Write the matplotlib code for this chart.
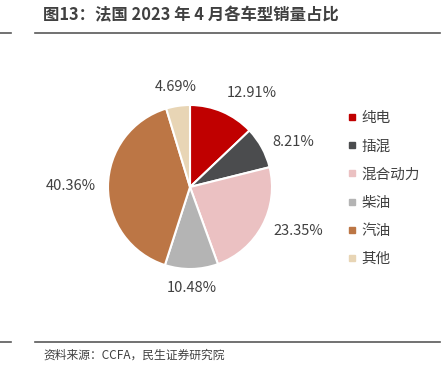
import matplotlib
matplotlib.use("Agg")
import matplotlib.pyplot as plt
from matplotlib.lines import Line2D

plt.rcParams['font.family'] = ['Noto Sans CJK SC', 'DejaVu Sans']

categories = ['纯电', '插混', '混合动力', '柴油', '汽油', '其他']
values = [12.91, 8.21, 23.35, 10.48, 40.36, 4.69]
colors = ['#C00000', '#4B4C4E', '#EBC1C2', '#B4B4B4', '#BC7645', '#E8D5B5']

W, H = 443, 372
fig = plt.figure(figsize=(W/100, H/100), dpi=100)

# pie axes: center (190,187), radius 82 px
r = 82
cx, cy = 190, 187
ax = fig.add_axes([(cx - r)/W, 1 - (cy + r)/H, 2*r/W, 2*r/H])
wedges, texts = ax.pie(values, colors=colors, startangle=90, counterclock=False,
                       labels=[f'{v:.2f}%' for v in values], labeldistance=1.15,
                       wedgeprops=dict(edgecolor='white', linewidth=1.5),
                       textprops=dict(fontsize=10.5, color='#404040'))
for t in texts:
    x, y = t.get_position()
    t.set_ha('left' if x > 0.3 else ('right' if x < -0.3 else 'center'))
    t.set_va('bottom' if y > 0.8 else ('top' if y < -0.8 else 'center'))
ax.set_xlim(-1, 1)
ax.set_ylim(-1, 1)
ax.set_aspect('equal')

# legend
handles = [Line2D([0], [0], marker='s', linestyle='none', markersize=5,
                  markerfacecolor=c, markeredgecolor=c) for c in colors]
fig.legend(handles, categories, loc='upper left', bbox_to_anchor=(340/W, 1 - 104/H),
           frameon=False, fontsize=10.5, labelcolor='#404040', handlelength=0.7,
           handletextpad=0.3, labelspacing=0.97, borderpad=0)

# title and rules
fig.text(43/W, 1 - 15/H, '图13：法国 2023 年 4 月各车型销量占比', fontsize=11.8,
         fontweight='bold', color='#404040', va='center', ha='left')
fig.add_artist(Line2D([35/W, 440/W], [1 - 33/H, 1 - 33/H], color='#595959', lw=1.2))
fig.add_artist(Line2D([0, 11/W], [1 - 33/H, 1 - 33/H], color='#595959', lw=1.2))
fig.add_artist(Line2D([35/W, 440/W], [1 - 342/H, 1 - 342/H], color='#595959', lw=1.2))
fig.add_artist(Line2D([0, 11/W], [1 - 342/H, 1 - 342/H], color='#595959', lw=1.2))
fig.text(43/W, 1 - 355/H, '资料来源：CCFA，民生证券研究院', fontsize=8.5,
         color='#404040', va='center', ha='left')

fig.savefig('out.png', dpi=100)
